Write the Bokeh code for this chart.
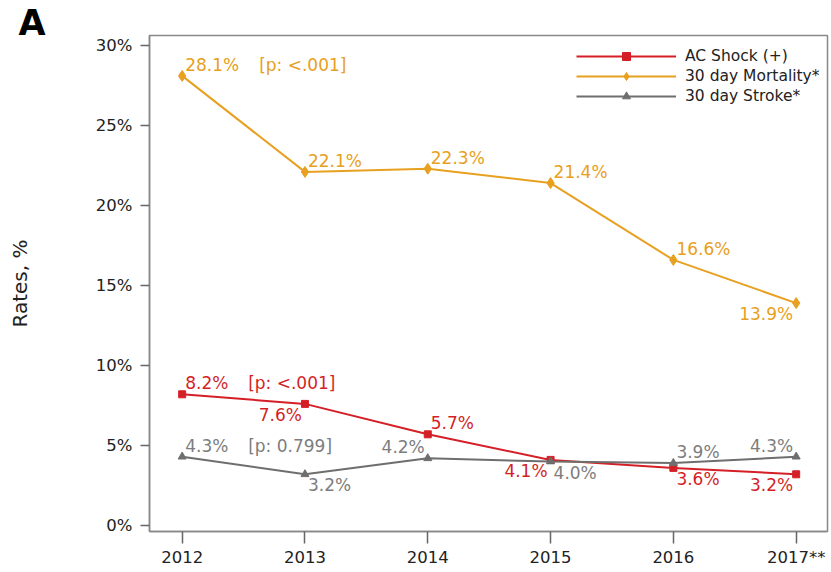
from bokeh.plotting import figure
from bokeh.models import ColumnDataSource, Range1d, FixedTicker, Title, Legend, LegendItem
from bokeh.core.properties import value
from bokeh.embed import file_html
from bokeh.resources import INLINE

years = [2012, 2013, 2014, 2015, 2016, 2017]
year_labels = ["2012", "2013", "2014", "2015", "2016", "2017**"]
ac_shock = [8.2, 7.6, 5.7, 4.1, 3.6, 3.2]
mortality = [28.1, 22.1, 22.3, 21.4, 16.6, 13.9]
stroke = [4.3, 3.2, 4.2, 4.0, 3.9, 4.3]
p_mortality = "[p: <.001]"
p_ac = "[p: <.001]"
p_stroke = "[p: 0.799]"

# label placement codes (u=above, l=below; r=right, l=left)
place_mort = ["ur", "ur", "ur", "ur", "ur", "ll"]
place_ac = ["ur", "ll", "ur", "ll", "lr", "ll"]
place_stroke = ["ur", "lr", "ul", "lr", "ur", "ul"]

RED = "#d51f26"
ORANGE = "#e8a020"
GRAY = "#6e6e6e"
GRAY_TXT = "#7d7d7d"
FONT = "DejaVu Sans"

p = figure(width=831, height=572, output_backend="svg", toolbar_location=None,
           x_range=Range1d(2011.734, 2017.255), y_range=Range1d(-0.375, 30.625),
           min_border_left=149, min_border_right=4, min_border_top=35, min_border_bottom=41)
p.xgrid.visible = False
p.ygrid.visible = False
p.outline_line_color = "#888888"
p.outline_line_width = 1.5
p.background_fill_color = "white"
p.border_fill_color = "white"

for ax in (p.xaxis[0], p.yaxis[0]):
    ax.axis_line_color = "#888888"
    ax.axis_line_width = 1.5
    ax.major_tick_line_color = "#666666"
    ax.major_tick_line_width = 1.5
    ax.major_tick_in = 0
    ax.minor_tick_line_color = None
    ax.major_label_text_font = FONT
    ax.major_label_text_font_size = "16.5px"
    ax.major_label_text_color = "#222222"

p.xaxis.ticker = FixedTicker(ticks=years)
p.xaxis.major_label_overrides = {y: l for y, l in zip(years, year_labels)}
p.xaxis.major_tick_out = 12
p.xaxis.major_label_standoff = 4
p.yaxis.ticker = FixedTicker(ticks=[0, 5, 10, 15, 20, 25, 30])
p.yaxis.major_label_overrides = {v: f"{v}%" for v in [0, 5, 10, 15, 20, 25, 30]}
p.yaxis.major_tick_out = 9
p.yaxis.major_label_standoff = 8
p.yaxis.axis_label = "Rates, %"
p.yaxis.axis_label_text_font = FONT
p.yaxis.axis_label_text_font_size = "20px"
p.yaxis.axis_label_text_font_style = "normal"
p.yaxis.axis_label_text_color = "#222222"
p.yaxis.axis_label_standoff = 61


def offsets(codes):
    xo, yo, al = [], [], []
    for c in codes:
        yo.append(-11 if c[0] == "u" else 11)
        if c[1] == "r":
            xo.append(3); al.append("left")
        else:
            xo.append(-3); al.append("right")
    return xo, yo, al


series = [
    (ac_shock, place_ac, RED, RED, "square", 7, "AC Shock (+)", p_ac, 66),
    (mortality, place_mort, ORANGE, ORANGE, "diamond", 11, "30 day Mortality*", p_mortality, 77),
    (stroke, place_stroke, GRAY, GRAY_TXT, "triangle", 8, "30 day Stroke*", p_stroke, 66),
]

items = []
for vals, codes, col, tcol, marker, msize, name, ptxt, pxo in series:
    xo, yo, al = offsets(codes)
    src = ColumnDataSource(dict(x=years, y=vals, txt=[f"{v:.1f}%" for v in vals],
                                xo=xo, yo=yo, al=al))
    r1 = p.line("x", "y", source=src, line_color=col, line_width=2)
    r2 = p.scatter("x", "y", source=src, marker=marker, size=msize,
                   fill_color=col, line_color=col)
    p.text("x", "y", text="txt", source=src, x_offset="xo", y_offset="yo",
           text_align="al", text_baseline="middle", text_color=tcol,
           text_font=value(FONT), text_font_size="17px")
    psrc = ColumnDataSource(dict(x=[years[0]], y=[vals[0]], t=[ptxt]))
    p.text("x", "y", text="t", source=psrc, x_offset=pxo, y_offset=-11,
           text_align="left", text_baseline="middle", text_color=tcol,
           text_font=value(FONT), text_font_size="17px")
    items.append(LegendItem(label=name, renderers=[r1, r2]))

legend = Legend(items=items, location=(427, 425))
legend.glyph_width = 100
legend.glyph_height = 20
legend.label_height = 20
legend.spacing = 0
legend.padding = 8
legend.margin = 0
legend.label_standoff = 9
legend.label_text_font = FONT
legend.label_text_font_size = "15.5px"
legend.label_text_color = "#222222"
legend.border_line_color = None
legend.background_fill_alpha = 0
p.add_layout(legend, "center")

p.add_layout(Title(text="A", align="left", offset=-131, standoff=-14,
                   vertical_align="bottom", text_font=FONT, text_font_size="35px",
                   text_font_style="bold", text_color="black"), "above")

open("out.html", "w").write(file_html(p, INLINE))
